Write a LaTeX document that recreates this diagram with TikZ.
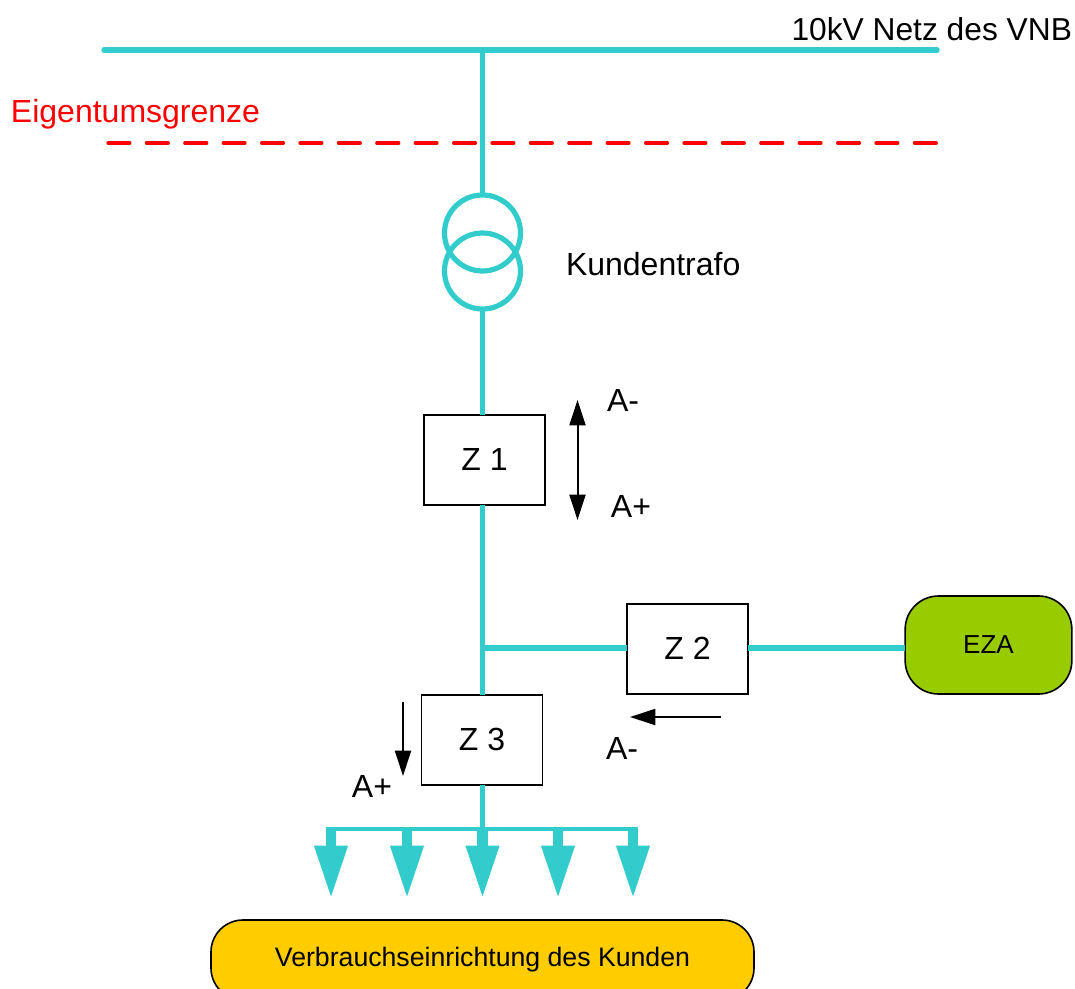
\documentclass[tikz,border=0pt]{standalone}
\usepackage{fontspec}
\setmainfont{Liberation Sans}
\usetikzlibrary{arrows.meta}
\definecolor{netz}{RGB}{51,204,204}
\definecolor{eza}{RGB}{153,204,0}
\definecolor{kunde}{RGB}{255,204,0}
\begin{document}
\begin{tikzpicture}[x=0.75pt,y=-0.75pt]
	\tikzstyle{every node}=[font=\fontsize{24}{28}\selectfont,inner sep=0pt,outer sep=0pt]
	\tikzstyle{leitung}=[draw=netz,line width=4.1pt]
	\tikzstyle{zaehler}=[draw=black,fill=white,line width=1.2pt,minimum width=90.75pt,minimum height=67.5pt]
	\tikzstyle{trafo}=[circle,draw=netz,line width=3.9pt,minimum size=57pt]
	\tikzstyle{abgang}=[draw=netz,line width=7.9pt,-{Triangle[length=40pt,width=23pt]}]
	\tikzstyle{richtung}=[draw=black,line width=1.5pt,-{Triangle[length=19pt,width=12pt]}]
	\useasboundingbox (0,0) rectangle (1075,989);
	
	\coordinate (busl) at (104,50);
	\coordinate (busr) at (937,50);
	\coordinate (bust) at (482.5,50);
	\draw [leitung,line cap=round] (busl) -- (busr);
	\node [anchor=east,font=\fontsize{23.8}{28}\selectfont] (netzlabel) at (1072,29) {10kV Netz des VNB};
	
	\node [anchor=west,text=red] (grenzlabel) at (11,114) {Eigentumsgrenze};
	\coordinate (grenzl) at (108,143);
	\coordinate (grenzr) at (937,143);
	\draw [red,line width=2.4pt,line cap=round,dash pattern=on 16.4pt off 12.4pt] (grenzl) -- (grenzr);
	
	\node [trafo] (trafoa) at (482.5,233) {};
	\node [trafo] (trafob) at (482.5,271) {};
	\node [anchor=west] (trafolabel) at (566,264) {Kundentrafo};
	\draw [leitung] (bust) -- (trafoa.north);
	
	\node [zaehler] (z1) at (484.5,460) {\raisebox{1pt}{Z 1}};
	\node [zaehler] (z2) at (687.5,649) {\raisebox{1pt}{Z 2}};
	\node [zaehler] (z3) at (482,740) {\raisebox{1pt}{Z 3}};
	\draw [leitung] (trafob.south) -- (trafob.south |- z1.north);
	\draw [leitung] (trafob.south |- z1.south) -- (trafob.south |- z3.north);
	
	\node [draw=black,fill=eza,line width=1.2pt,rounded corners=25pt,minimum width=125pt,minimum height=73.5pt,font=\fontsize{19.5}{23}\selectfont] (eza) at (988.5,645) {EZA};
	\coordinate (abzweig) at (482.5,648);
	\draw [leitung] (abzweig) -- (abzweig -| z2.west);
	\draw [leitung] (abzweig -| z2.east) -- (abzweig -| eza.west);
	
	\coordinate (sammell) at (331,829);
	\coordinate (sammelr) at (634,829);
	\draw [draw=netz,line width=3pt] (sammell) -- (sammelr);
	\draw [leitung] (trafob.south |- z3.south) -- (trafob.south |- sammell);
	
	\coordinate (v1) at (331,827);
	\coordinate (v2) at (407,827);
	\coordinate (v3) at (482.5,827);
	\coordinate (v4) at (558,827);
	\coordinate (v5) at (633,827);
	\coordinate (e1) at (331,899);
	\coordinate (e2) at (407,899);
	\coordinate (e3) at (482.5,899);
	\coordinate (e4) at (558,899);
	\coordinate (e5) at (633,899);
	\draw [abgang] (v1) -- (e1);
	\draw [abgang] (v2) -- (e2);
	\draw [abgang] (v3) -- (e3);
	\draw [abgang] (v4) -- (e4);
	\draw [abgang] (v5) -- (e5);
	
	\node [draw=black,fill=kunde,line width=1.2pt,rounded corners=24pt,minimum width=407.25pt,minimum height=60pt,font=\fontsize{20}{24}\selectfont] (kunde) at (482.5,960) {Verbrauchseinrichtung des Kunden};
	
	% Zaehlrichtungen
	\coordinate (r1a) at (577.5,460);
	\coordinate (r1o) at (577.5,400);
	\coordinate (r1u) at (577.5,520);
	\draw [richtung] (r1a) -- (r1o);
	\draw [richtung] (r1a) -- (r1u);
	\node (am1) at (623,400) {A-};
	\node (ap1) at (631,506) {A+};
	
	\coordinate (r2a) at (721,717);
	\coordinate (r2e) at (630,717);
	\draw [richtung] (r2a) -- (r2e);
	\node (am2) at (622,748) {A-};
	
	\coordinate (r3a) at (403,702);
	\coordinate (r3e) at (403,776);
	\draw [richtung] (r3a) -- (r3e);
	\node (ap3) at (372,786) {A+};
\end{tikzpicture}
\end{document}
